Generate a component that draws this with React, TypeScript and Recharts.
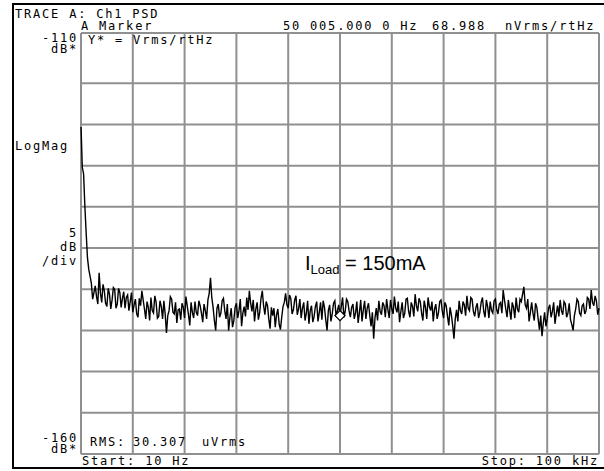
import { LineChart, Line, XAxis, YAxis, CartesianGrid, ReferenceDot } from 'recharts';

// trace A: Ch1 PSD, dB re 1 Vrms/rtHz
const decayFreqs = [10, 250, 500, 750, 1000, 1250, 1500, 1750];
const decayDb = [-120.3, -125.2, -126.0, -130.0, -133.2, -136.2, -137.6, -138.4];

// noise floor, bins at 2000, 2500, ... 100000 Hz
const noiseStartHz = 2000;
const noiseStepHz = 500;
const noiseDb = [
  -139.3, -140.4, -140.9, -138.0, -141.6, -140.2, -142.1, -140.6, -141.3, -140.0,
  -141.8, -140.4, -141.1, -142.3, -140.7, -141.5, -142.8, -141.2, -143.4, -142.0,
  -141.3, -143.6, -142.2, -141.0, -142.9, -141.6, -143.3, -142.1, -141.4, -145.3,
  -142.6, -141.2, -143.0, -144.1, -142.4, -141.7, -143.5, -142.0, -144.4, -142.8,
  -141.5, -143.2, -142.0, -144.0, -142.6, -141.3, -138.6, -142.2, -145.0, -141.8,
  -142.9, -141.1, -143.6, -145.0, -142.3, -143.8, -141.7, -142.6, -144.5, -142.1,
  -141.0, -140.2, -142.7, -143.9, -141.6, -142.8, -140.2, -143.1, -142.0, -144.8,
  -143.2, -144.6, -142.4, -144.9, -142.1, -140.5, -142.3, -141.1, -142.5, -140.8,
  -142.4, -143.5, -141.6, -142.9, -144.2, -142.0, -143.3, -141.5, -142.8, -143.7,
  -142.2, -145.0, -141.9, -143.0, -141.4, -142.6, -143.2, -141.0, -142.7, -141.5,
  -143.4, -141.8, -142.9, -144.1, -141.3, -142.5, -143.6, -141.7, -144.5, -146.0,
  -142.3, -141.4, -143.1, -142.0, -141.2, -143.5, -142.4, -140.9, -142.8, -144.0,
  -141.6, -142.9, -141.1, -143.4, -142.1, -140.6, -142.7, -141.5, -143.8, -142.2,
  -141.0, -142.6, -143.9, -141.8, -142.9, -141.3, -143.5, -142.0, -144.4, -143.1,
  -146.0, -142.5, -141.4, -143.0, -141.9, -140.8, -142.6, -141.2, -143.3, -141.7,
  -142.8, -141.0, -143.4, -142.1, -141.5, -142.9, -141.2, -143.0, -141.6, -140.1,
  -142.4, -141.3, -143.7, -142.2, -141.0, -142.8, -141.5, -139.7, -142.3, -143.9,
  -141.6, -143.8, -142.2, -144.9, -145.7, -142.8, -143.6, -141.9, -142.7, -144.2,
  -142.0, -141.3, -143.1, -141.8, -142.9, -143.7, -145.0, -142.4, -141.5, -143.2,
  -141.8, -142.6, -141.2, -140.1, -142.0, -141.4, -142.3,
];

// the bins in between, at 2250, 2750, ... 99750 Hz
const noiseMidDb = [
  -141.2, -139.6, -141.8, -140.5, -139.4, -141.7, -139.9, -142.4, -139.8, -142.3,
  -139.9, -142.2, -140.3, -141.0, -142.6, -140.4, -141.9, -143.0, -141.1, -140.2,
  -142.4, -141.5, -143.8, -142.6, -140.8, -143.5, -141.4, -143.6, -143.0, -143.2,
  -140.9, -142.8, -141.6, -142.5, -143.7, -142.2, -140.9, -143.1, -141.6, -143.5,
  -142.8, -141.4, -142.9, -141.8, -143.6, -140.5, -141.0, -143.8, -142.3, -143.4,
  -141.4, -142.6, -141.8, -143.4, -144.6, -142.2, -143.5, -141.2, -142.9, -143.3,
  -142.5, -141.7, -141.3, -142.4, -143.7, -141.1, -142.0, -141.5, -143.6, -142.2,
  -142.3, -143.1, -144.2, -143.4, -141.6, -141.9, -140.7, -143.0, -141.3, -143.1,
  -141.2, -142.3, -143.8, -141.4, -142.6, -144.0, -142.1, -143.9, -141.6, -141.4,
  -143.7, -142.6, -143.9, -141.7, -143.3, -141.9, -142.1, -143.4, -141.2, -142.6,
  -142.2, -143.6, -141.5, -142.8, -143.9, -141.4, -142.3, -143.2, -142.8, -143.5,
  -143.8, -142.7, -141.6, -143.4, -142.5, -141.3, -143.0, -142.3, -141.5, -142.7,
  -143.5, -141.2, -142.7, -141.6, -143.3, -142.0, -141.1, -142.9, -141.4, -143.6,
  -142.1, -141.5, -142.4, -143.6, -141.5, -142.7, -141.6, -143.3, -142.2, -144.4,
  -143.6, -143.9, -142.6, -141.5, -143.2, -142.3, -141.0, -142.7, -142.2, -143.5,
  -141.6, -142.7, -141.3, -143.5, -142.6, -141.4, -142.5, -141.8, -142.9, -141.3,
  -143.4, -142.5, -141.6, -143.5, -142.4, -141.2, -140.6, -141.9, -141.2, -142.8,
  -142.9, -141.7, -143.6, -143.2, -144.1, -144.5, -142.3, -143.4, -141.6, -143.0,
  -143.3, -142.6, -141.5, -143.4, -141.7, -144.3, -143.2, -141.2, -142.9, -142.0,
  -143.0, -141.0, -142.4, -141.6, -140.8, -143.1,
];

const xTicks = [0, 10000, 20000, 30000, 40000, 50000, 60000, 70000, 80000, 90000, 100000];
// the top row of the screen grid is drawn a bit taller than the rest
const yTicks = [-160, -155, -150, -145, -140, -135, -130, -125, -120, -115, -108.9];

const markerHz = 50000;
const markerDb = -143.2;

const data: { f: number; db: number }[] = decayFreqs.map((f, i) => ({ f, db: decayDb[i] }));
noiseDb.forEach((db, i) => {
  data.push({ f: noiseStartHz + i * noiseStepHz, db });
  if (i < noiseMidDb.length) {
    data.push({ f: noiseStartHz + i * noiseStepHz + noiseStepHz / 2, db: noiseMidDb[i] });
  }
});

const W = 604;
const H = 471;
const mono = '"DejaVu Sans Mono", monospace';

// ticks must exist for the grid, but nothing is drawn for them
const NoTick = () => <g />;

const Diamond = (props: any) => {
  const { cx, cy } = props;
  if (cx == null || cy == null) return null;
  return (
    <polygon
      points={`${cx},${cy - 5} ${cx + 5},${cy} ${cx},${cy + 5} ${cx - 5},${cy}`}
      fill="#fff"
      stroke="#000"
      strokeWidth={1.3}
    />
  );
};

export default function App() {
  const t = { fontFamily: mono, fontSize: 12, letterSpacing: 1.8, fill: '#000' } as const;
  return (
    <div style={{ position: 'absolute', left: 0, top: 0, width: W, height: H, background: '#fff' }}>
      <LineChart
        width={W}
        height={H}
        data={data}
        margin={{ top: 33, right: 5, bottom: 17, left: 81 }}
      >
        <CartesianGrid stroke="#909090" strokeWidth={2} fill="none" />
        <XAxis
          dataKey="f"
          type="number"
          domain={[0, 100000]}
          ticks={xTicks}
          tick={NoTick}
          interval={0}
          axisLine={false}
          tickLine={false}
          height={0}
        />
        <YAxis
          type="number"
          domain={[-160, -108.9]}
          ticks={yTicks}
          tick={NoTick}
          interval={0}
          axisLine={false}
          tickLine={false}
          width={0}
          allowDataOverflow
        />
        <Line
          type="linear"
          dataKey="db"
          stroke="#000"
          strokeWidth={1.4}
          dot={false}
          isAnimationActive={false}
        />
        <ReferenceDot x={markerHz} y={markerDb} shape={<Diamond />} />
      </LineChart>

      <svg
        width={W}
        height={H}
        style={{ position: 'absolute', left: 0, top: 0, pointerEvents: 'none' }}
      >
        <rect x={13} y={4} width={640} height={464} fill="none" stroke="#000" strokeWidth={2} />

        <text x={15} y={18} {...t}>TRACE A: Ch1 PSD</text>
        <text x={81} y={30} {...t}>A Marker</text>
        <text x={283} y={30} {...t}>50 005.000 0 Hz</text>
        <text x={432} y={30} {...t}>68.988</text>
        <text x={505} y={30} {...t}>nVrms/rtHz</text>

        <text x={78} y={42} textAnchor="end" {...t}>-110</text>
        <text x={78} y={53} textAnchor="end" {...t}>dB*</text>
        <text x={88} y={44} {...t}>Y* = Vrms/rtHz</text>

        <text x={15} y={150} {...t}>LogMag</text>

        <text x={78} y={237} textAnchor="end" {...t}>5</text>
        <text x={78} y={251} textAnchor="end" {...t}>dB</text>
        <text x={78} y={265} textAnchor="end" {...t}>/div</text>

        <text x={78} y={442} textAnchor="end" {...t}>-160</text>
        <text x={78} y={453} textAnchor="end" {...t}>dB*</text>
        <text x={90} y={446} {...t}>RMS:</text>
        <text x={133} y={446} {...t}>30.307</text>
        <text x={202} y={446} {...t}>uVrms</text>

        <text x={82} y={465} {...t}>Start: 10 Hz</text>
        <text x={599} y={465} textAnchor="end" {...t}>Stop: 100 kHz</text>

        <text x={305} y={270} fontFamily='"Liberation Sans", Arial, sans-serif' fontSize={20} fill="#000">
          I
          <tspan fontSize={13} dy={4}>Load</tspan>
          <tspan dy={-4}> = 150mA</tspan>
        </text>
      </svg>
    </div>
  );
}
